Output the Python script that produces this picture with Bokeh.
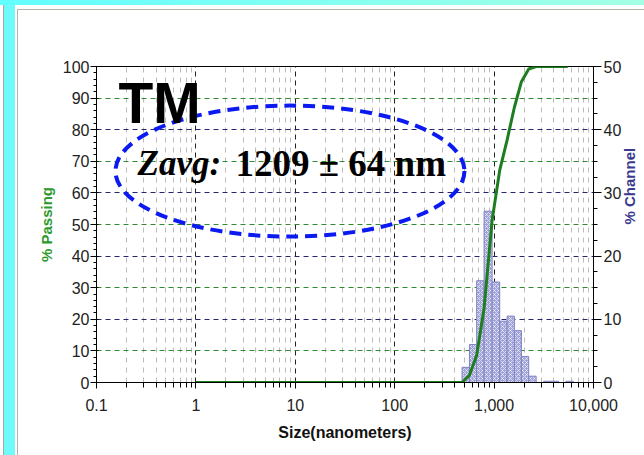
import math
from bokeh.plotting import figure
from bokeh.models import (LinearAxis, Range1d, FixedTicker, Grid, Label,
                          CustomJSTickFormatter)
from bokeh.embed import file_html
from bokeh.resources import INLINE

# ---------------- data ----------------
bin_lo = [476, 565, 668, 793, 955, 1138, 1351, 1600, 1883, 2229, 3146, 3737, 5275]
bin_hi = [565, 668, 793, 955, 1138, 1351, 1600, 1883, 2229, 2648, 3737, 4440, 6267]
channel = [2.4, 6.0, 16.1, 27.1, 15.9, 9.7, 10.5, 8.2, 4.1, 1.0, 0.2, 0.2, 0.2]

passing_size = [1, 476, 565, 668, 793, 955, 1138, 1351, 1600, 1883, 2229, 2648, 5500]
passing = [0, 0, 2.3, 8.6, 23.5, 51.3, 67.1, 76.7, 87.1, 95.2, 99.2, 100, 100]

x_ticks = [0.1, 1, 10, 100, 1000, 10000]
x_decade_lines = [1, 10, 100, 1000]
y_left_ticks = [0, 10, 20, 30, 40, 50, 60, 70, 80, 90, 100]
y_right_ticks = [0, 10, 20, 30, 40, 50]
grid_green = [10, 30, 50, 70, 90]
grid_navy = [20, 40, 60, 80]

x_minor = [m * d for d in [0.1, 1, 10, 100, 1000] for m in range(2, 10)]
y_left_minor = list(range(0, 101, 2))
y_right_minor = [i * 2.5 for i in range(21)]

GREEN = "#1E7D1E"

p = figure(x_axis_type="log", x_range=Range1d(0.1, 10000), y_range=Range1d(0, 100),
           frame_width=497, frame_height=316,
           min_border_left=96, min_border_right=51, min_border_top=66, min_border_bottom=73,
           output_backend="svg", toolbar_location=None,
           background_fill_color="white", border_fill_color=None)
p.styles = {
    "background": (
        "linear-gradient(#B4B4AC,#B4B4AC) 17px 9px / 1px 100% no-repeat,"
        "linear-gradient(#B4B4AC,#B4B4AC) 17px 9px / 100% 1px no-repeat,"
        "linear-gradient(to right,#62FFFF,#A4FFE4) 0 0 / 100% 5px no-repeat,"
        "linear-gradient(#70FBFB,#70FBFB) 4px 0 / 11px 100% no-repeat,"
        "linear-gradient(#A8A8A8,#A8A8A8) 3px 0 / 1px 100% no-repeat,"
        "white"
    )
}
p.outline_line_color = "black"
p.outline_line_width = 1
p.extra_y_ranges = {"chan": Range1d(0, 50)}

# x axis
xa = p.xaxis[0]
xa.ticker = FixedTicker(ticks=x_ticks, minor_ticks=x_minor)
xa.formatter = CustomJSTickFormatter(code="return tick.toLocaleString('en-US', {maximumFractionDigits: 1});")
xa.axis_label = "Size(nanometers)"
xa.axis_label_text_font = "Liberation Sans"
xa.axis_label_text_font_style = "bold"
xa.axis_label_text_font_size = "16px"
xa.axis_label_text_color = "#111111"
xa.axis_label_standoff = 10
xa.major_label_text_font = "Liberation Sans"
xa.major_label_text_font_size = "16px"
xa.major_label_text_color = "#222222"
xa.major_label_standoff = 10
xa.major_tick_out = 6
xa.major_tick_in = 0
xa.minor_tick_out = 5
xa.minor_tick_in = 0
xa.axis_line_color = "black"

# left axis
ya = p.yaxis[0]
ya.ticker = FixedTicker(ticks=y_left_ticks, minor_ticks=y_left_minor)
ya.axis_label = "% Passing"
ya.axis_label_text_font = "Liberation Sans"
ya.axis_label_text_font_style = "bold"
ya.axis_label_text_font_size = "15px"
ya.axis_label_text_color = "#2E9A2E"
ya.axis_label_standoff = 5
ya.major_label_text_font = "Liberation Sans"
ya.major_label_text_font_size = "16px"
ya.major_label_text_color = "#222222"
ya.major_label_standoff = 1
ya.major_tick_out = 6
ya.major_tick_in = 2
ya.minor_tick_out = 3
ya.minor_tick_in = 0

# right axis
ra = LinearAxis(y_range_name="chan", ticker=FixedTicker(ticks=y_right_ticks, minor_ticks=y_right_minor))
ra.axis_label = "% Channel"
ra.axis_label_orientation = math.pi / 2
ra.axis_label_text_font = "Liberation Sans"
ra.axis_label_text_font_style = "bold"
ra.axis_label_text_font_size = "15px"
ra.axis_label_text_color = "#3A3A8E"
ra.axis_label_standoff = 5
ra.major_label_text_font = "Liberation Sans"
ra.major_label_text_font_size = "16px"
ra.major_label_text_color = "#222222"
ra.major_label_standoff = 2
ra.major_tick_out = 8
ra.major_tick_in = 0
ra.minor_tick_out = 4
ra.minor_tick_in = 0
p.add_layout(ra, "right")

# grids
p.xgrid.ticker = FixedTicker(ticks=x_decade_lines, minor_ticks=x_minor)
p.xgrid.grid_line_color = "#222222"
p.xgrid.grid_line_dash = "5 4"
p.xgrid.grid_line_width = 1
p.xgrid.minor_grid_line_color = "#BBBBBB"
p.xgrid.minor_grid_line_dash = "5 5"
p.xgrid.minor_grid_line_width = 1

p.ygrid.ticker = FixedTicker(ticks=grid_green)
p.ygrid.grid_line_color = "#2E8B2E"
p.ygrid.grid_line_dash = "5 4"
p.ygrid.grid_line_width = 1
g2 = Grid(dimension=1, ticker=FixedTicker(ticks=grid_navy), grid_line_color="#26266E",
          grid_line_dash="5 4", grid_line_width=1)
p.add_layout(g2)

# histogram
p.quad(left=bin_lo, right=bin_hi, bottom=0, top=channel, y_range_name="chan",
       fill_color="#9FA2D8", line_color="#7F82C2", line_width=1,
       hatch_pattern="diagonal_cross", hatch_color="white", hatch_alpha=0.6,
       hatch_scale=4, hatch_weight=1)

# cumulative curve
p.line(passing_size, passing, line_color=GREEN, line_width=3)

# annotations
p.add_layout(Label(x=0.166, y=88.5, text="TM", text_font="Liberation Sans",
                   text_font_style="bold", text_font_size="57px", text_color="black",
                   text_baseline="alphabetic"))
p.ellipse(x=[8.84], y=[66.9], width=349, height=131, width_units="screen",
          height_units="screen", fill_color=None, line_color="#0A1AF0",
          line_width=4, line_dash="12 7")
p.add_layout(Label(x=0.2585, y=69.4, text="Zavg:", text_font="Liberation Serif",
                   text_font_style="bold italic", text_font_size="35px", text_color="black",
                   text_baseline="alphabetic"))
p.add_layout(Label(x=0.2585, y=69.4, x_offset=98, text="1209 \u00b1 64 nm",
                   text_font="Liberation Serif", text_font_style="bold",
                   text_font_size="37px", text_color="black", text_baseline="alphabetic"))

open("out.html", "w").write(file_html(p, INLINE))
